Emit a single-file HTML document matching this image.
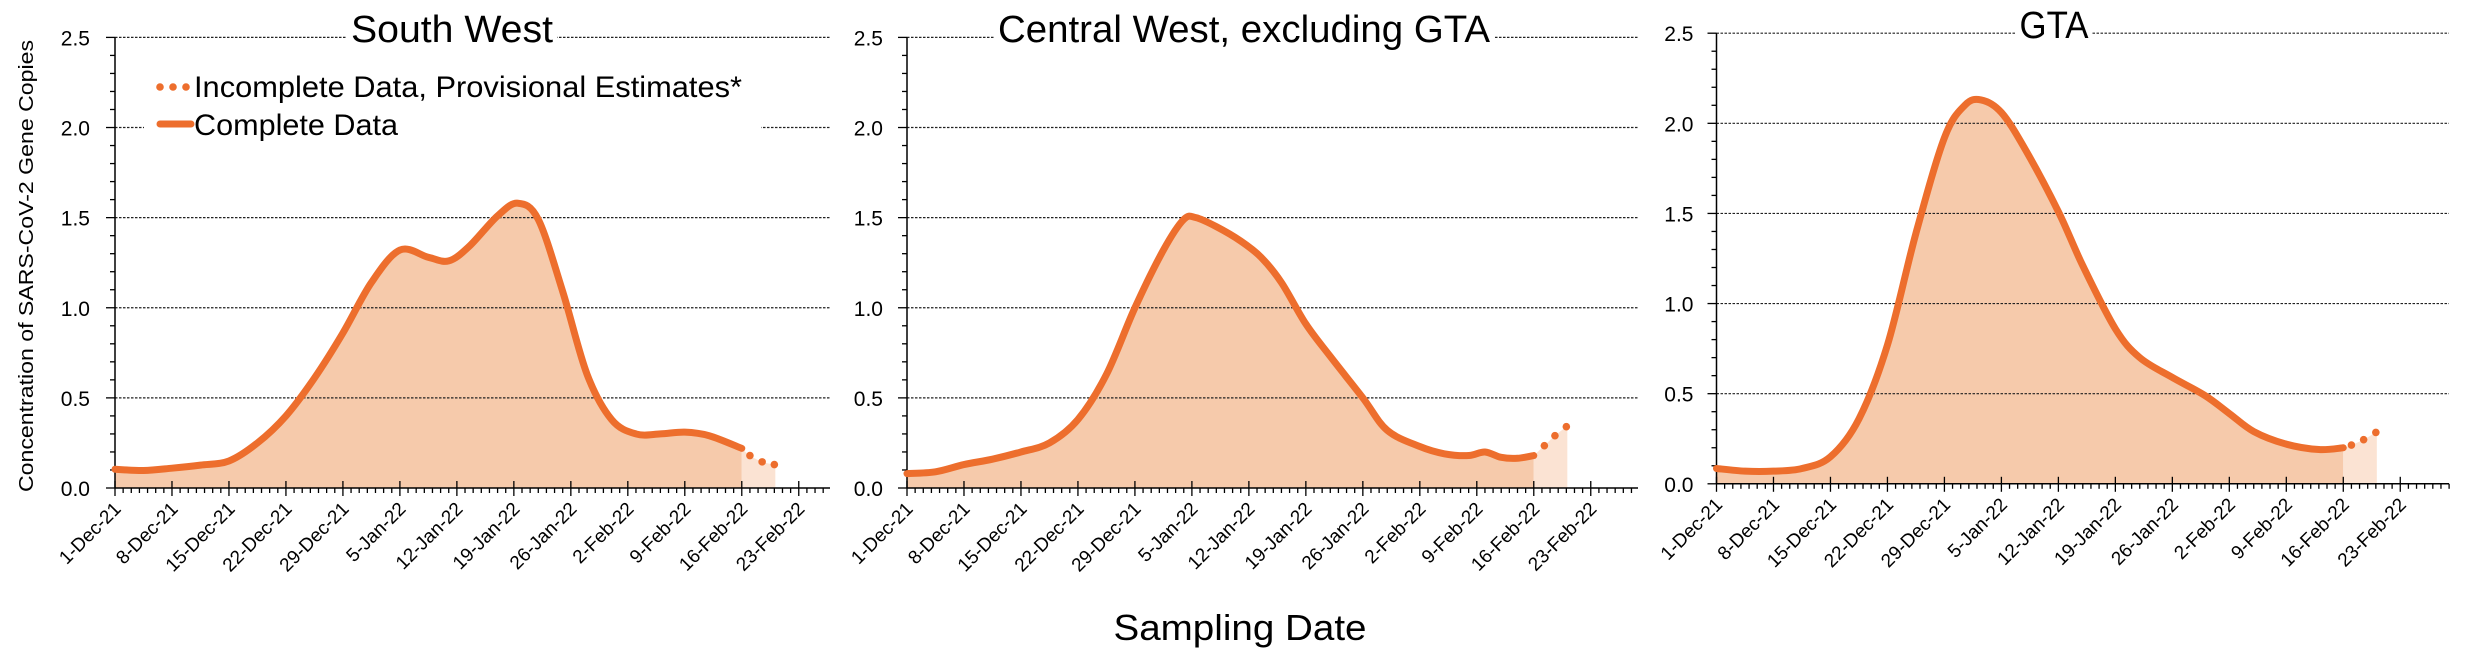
<!DOCTYPE html>
<html><head><meta charset="utf-8">
<style>
html,body{margin:0;padding:0;background:#fff;}
svg{display:block;font-family:"Liberation Sans",sans-serif;}
</style></head>
<body>
<svg id="chart" width="2488" height="652" viewBox="0 0 2488 652" xmlns="http://www.w3.org/2000/svg">
<text x="0" y="0" transform="translate(33,266) rotate(-90)" text-anchor="middle" font-size="20" textLength="452" lengthAdjust="spacingAndGlyphs">Concentration of SARS-CoV-2 Gene Copies</text>
<text x="1240" y="640" text-anchor="middle" font-size="36" textLength="253" lengthAdjust="spacingAndGlyphs">Sampling Date</text>
</svg>
<script>
// Day offsets from 1-Dec-21, values in concentration units
const swDays = [0,3.5,7,10.5,14,17.5,21,24.5,28,31.5,35,38.5,41,43.5,47,49.5,52,55,58,61,64,67,70,73,77];
const swVals = [0.104,0.097,0.11,0.127,0.15,0.25,0.40,0.61,0.86,1.14,1.32,1.28,1.26,1.34,1.51,1.58,1.49,1.09,0.63,0.38,0.30,0.30,0.31,0.29,0.22];
const swProvDays = [77,78,79.5,81];
const swProvVals = [0.22,0.18,0.145,0.13];

const cwDays = [0,3.5,7,10.5,14,17.5,21,24.5,28,31.5,34,35.5,38,41,43.5,46,49,52,56,59,63,66,69,71,73,75,77];
const cwVals = [0.08,0.09,0.13,0.16,0.20,0.25,0.38,0.63,1.00,1.32,1.49,1.50,1.45,1.37,1.28,1.14,0.91,0.73,0.50,0.32,0.23,0.19,0.18,0.20,0.17,0.165,0.18];
const cwProvDays = [77,78.3,79.6,81];
const cwProvVals = [0.18,0.235,0.29,0.34];

const gtaDays = [0,3.5,7,10.5,14,17.5,21,24.5,28,30.5,32.5,35,38,42,45,49,52,56,60,63,66,70,74,77];
const gtaVals = [0.085,0.07,0.07,0.085,0.15,0.36,0.77,1.39,1.92,2.10,2.13,2.06,1.85,1.51,1.21,0.86,0.70,0.59,0.49,0.39,0.29,0.22,0.19,0.20];
const gtaProvDays = [77,78,79.5,81];
const gtaProvVals = [0.20,0.215,0.245,0.285];

const tickLabels = ["1-Dec-21","8-Dec-21","15-Dec-21","22-Dec-21","29-Dec-21","5-Jan-22","12-Jan-22","19-Jan-22","26-Jan-22","2-Feb-22","9-Feb-22","16-Feb-22","23-Feb-22"];
const yTicks = [0,0.5,1.0,1.5,2.0,2.5];

const NS = "http://www.w3.org/2000/svg";
const svg = document.getElementById('chart');
function mk(tag, attrs, parent){
  const e = document.createElementNS(NS, tag);
  for (const k in attrs) e.setAttribute(k, attrs[k]);
  (parent||svg).appendChild(e);
  return e;
}
function smoothPath(pts){
  let d = "M" + pts[0][0] + "," + pts[0][1];
  for (let i=0;i<pts.length-1;i++){
    const p0 = pts[i-1]||pts[i], p1=pts[i], p2=pts[i+1], p3=pts[i+2]||pts[i+1];
    const c1x=p1[0]+(p2[0]-p0[0])/6, c1y=p1[1]+(p2[1]-p0[1])/6;
    const c2x=p2[0]-(p3[0]-p1[0])/6, c2y=p2[1]-(p3[1]-p1[1])/6;
    d += " C"+c1x+","+c1y+" "+c2x+","+c2y+" "+p2[0]+","+p2[1];
  }
  return d;
}

function panel(cfg){
  const g = mk('g', {});
  
  
  const pxDay = 8.14;
  const X = d => cfg.x0 + d*pxDay;
  const Y = v => cfg.y0 - v/2.5*(cfg.y0-cfg.yTop);
  // fills
  const pts = cfg.days.map((d,i)=>[X(d),Y(cfg.vals[i])]);
  const ppts = cfg.pDays.map((d,i)=>[X(d),Y(cfg.pVals[i])]);
  const area = mk('path', {d: smoothPath(pts)+" L"+pts[pts.length-1][0]+","+cfg.y0+" L"+pts[0][0]+","+cfg.y0+" Z", fill:"#F6CAAB"}, g);
  
  
  const parea = mk('path', {d: smoothPath(ppts)+" L"+(X(cfg.pDays[cfg.pDays.length-1])+1)+","+ppts[ppts.length-1][1]+" L"+(X(cfg.pDays[cfg.pDays.length-1])+1)+","+cfg.y0+" L"+ppts[0][0]+","+cfg.y0+" Z", fill:"#FBE3D3"}, g);
  
  
  // gridlines
  yTicks.forEach(v=>{
    if (v===0) return;
    const gl = mk('line',{x1:cfg.x0,x2:cfg.xr,y1:Y(v),y2:Y(v),stroke:"#222","stroke-width":1.2,"stroke-dasharray":"2.5,1.5"}, g);
    
    
  });
  // y minor ticks
  for (let v=0; v<=2.5001; v+=0.1){
    const major = Math.abs(v*2-Math.round(v*2))<1e-6;
    const t = mk('line',{x1:cfg.x0-(major?9:5),x2:cfg.x0,y1:Y(v),y2:Y(v),stroke:"#000","stroke-width":1.3}, g);
    
    
  }
  yTicks.forEach(v=>{
    const t = mk('text',{x:cfg.x0-cfg.lblOff,y:Y(v)+8,"text-anchor":"end","font-size":21}, g);
    t.textContent = v.toFixed(1);
    
    
  });
  // axes
  const ya = mk('line',{x1:cfg.x0,x2:cfg.x0,y1:cfg.yTop,y2:cfg.y0,stroke:"#000","stroke-width":1.5}, g);
  
  
  const xa = mk('line',{x1:cfg.x0,x2:cfg.xr,y1:cfg.y0,y2:cfg.y0,stroke:"#000","stroke-width":1.5}, g);
  
  
  for (let d=0; X(d)<=cfg.xr+0.5; d++){
    const major = d%7===0;
    const t = mk('line',{x1:X(d),x2:X(d),y1:major?cfg.y0-7:cfg.y0,y2:cfg.y0+(major?8:5),stroke:"#000","stroke-width":1.3}, g);
    
    
  }
  tickLabels.forEach((lab,i)=>{
    const x = X(i*7)+7, y = cfg.y0+22;
    const t = mk('text',{x:0,y:0,transform:"translate("+x+","+y+") rotate(-45)","text-anchor":"end","font-size":19}, g);
    t.textContent = lab;
    
    
  });
  // lines
  const ln = mk('path',{d:smoothPath(pts),fill:"none",stroke:"#ED6E2D","stroke-width":7,"stroke-linecap":"round","stroke-linejoin":"round"}, g);
  
  
  ppts.slice(1).forEach(p=>{
    const c = mk('circle',{cx:p[0],cy:p[1],r:3.8,fill:"#ED6E2D"}, g);
    
    
  });
  // title
  const tb = mk('rect',{x:cfg.tx-cfg.tw/2-4,y:cfg.yTop-3,width:cfg.tw+8,height:6,fill:"#fff"}, g);
  
  
  const tt = mk('text',{x:cfg.tx,y:cfg.ty,"text-anchor":"middle","font-size":38,textLength:cfg.tw,lengthAdjust:"spacingAndGlyphs"}, g);
  tt.textContent = cfg.title;
  
  
  return {g, X, Y};
}

const p1 = panel({name:"south-west-panel",title:"South West",x0:115,xr:830,y0:488,yTop:37.4,lblOff:25,tx:452,ty:42,tw:202,days:swDays,vals:swVals,pDays:swProvDays,pVals:swProvVals});
panel({name:"central-west-panel",title:"Central West, excluding GTA",x0:907,xr:1638,y0:488,yTop:37.4,lblOff:24,tx:1244,ty:42,tw:492,days:cwDays,vals:cwVals,pDays:cwProvDays,pVals:cwProvVals});
panel({name:"gta-panel",title:"GTA",x0:1716.5,xr:2449,y0:483.8,yTop:33.2,lblOff:23,tx:2054,ty:38,tw:69,days:gtaDays,vals:gtaVals,pDays:gtaProvDays,pVals:gtaProvVals});

// legend
const lg = mk('g',{});


const lbg = mk('rect',{x:144,y:72,width:617,height:70,fill:"#fff"}, lg);


[160,173,186].forEach(x=>{
  const c = mk('circle',{cx:x,cy:87,r:3.8,fill:"#ED6E2D"}, lg);
  
  
});
const l1 = mk('text',{x:194,y:97,"font-size":30,textLength:548,lengthAdjust:"spacingAndGlyphs"}, lg);
l1.textContent = "Incomplete Data, Provisional Estimates*";


const lm = mk('line',{x1:160,x2:191,y1:124,y2:124,stroke:"#ED6E2D","stroke-width":7,"stroke-linecap":"round"}, lg);


const l2 = mk('text',{x:194,y:135,"font-size":30,textLength:204,lengthAdjust:"spacingAndGlyphs"}, lg);
l2.textContent = "Complete Data";


</script>
</body></html>
